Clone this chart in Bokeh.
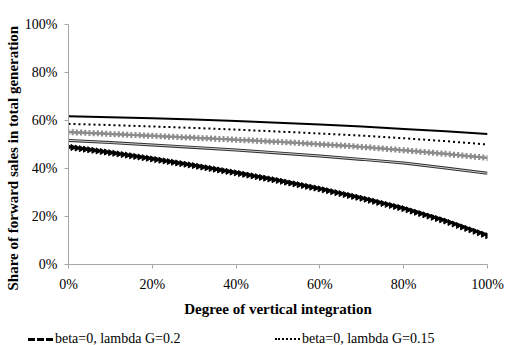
from math import pi

from bokeh.embed import file_html
from bokeh.layouts import column
from bokeh.models import ColumnDataSource, Div, FixedTicker, Range1d, Title
from bokeh.plotting import figure
from bokeh.resources import INLINE

# Degree of vertical integration (%), fine grid for marker series, coarse grid for plain lines
integration_fine = list(range(0, 101))
integration_coarse = [0, 10, 20, 30, 40, 50, 60, 70, 80, 90, 100]

# Share of forward sales in total generation (%)
share_solid = [61.8, 61.4, 60.9, 60.4, 59.8, 59.1, 58.3, 57.5, 56.5, 55.5, 54.4]
share_dotted = [58.6, 58.1, 57.5, 56.9, 56.2, 55.4, 54.6, 53.7, 52.6, 51.4, 50.0]
share_double = [51.7, 50.8, 49.8, 48.8, 47.7, 46.5, 45.2, 43.8, 42.3, 40.2, 38.0]

share_cross = [
    55.20, 55.12, 55.04, 54.96, 54.88, 54.80, 54.72, 54.64, 54.56, 54.48, 54.40,
    54.32, 54.24, 54.16, 54.08, 54.00, 53.92, 53.84, 53.76, 53.68, 53.60,
    53.52, 53.44, 53.36, 53.28, 53.20, 53.12, 53.04, 52.96, 52.88, 52.80,
    52.72, 52.64, 52.56, 52.48, 52.40, 52.32, 52.24, 52.16, 52.08, 52.00,
    51.91, 51.82, 51.73, 51.64, 51.55, 51.46, 51.37, 51.28, 51.19, 51.10,
    51.00, 50.90, 50.80, 50.70, 50.60, 50.50, 50.40, 50.30, 50.20, 50.10,
    49.99, 49.88, 49.77, 49.66, 49.55, 49.44, 49.33, 49.22, 49.11, 49.00,
    48.86, 48.72, 48.58, 48.44, 48.30, 48.16, 48.02, 47.88, 47.74, 47.60,
    47.45, 47.30, 47.15, 47.00, 46.85, 46.70, 46.55, 46.40, 46.25, 46.10,
    45.93, 45.76, 45.59, 45.42, 45.25, 45.08, 44.91, 44.74, 44.57, 44.40,
]

share_triangle = [
    49.00, 48.76, 48.52, 48.28, 48.04, 47.80, 47.56, 47.32, 47.08, 46.84, 46.60,
    46.34, 46.08, 45.82, 45.56, 45.30, 45.04, 44.78, 44.52, 44.26, 44.00,
    43.72, 43.44, 43.16, 42.88, 42.60, 42.32, 42.04, 41.76, 41.48, 41.20,
    40.90, 40.60, 40.30, 40.00, 39.70, 39.40, 39.10, 38.80, 38.50, 38.20,
    37.88, 37.56, 37.24, 36.92, 36.60, 36.28, 35.96, 35.64, 35.32, 35.00,
    34.65, 34.30, 33.95, 33.60, 33.25, 32.90, 32.55, 32.20, 31.85, 31.50,
    31.11, 30.72, 30.33, 29.94, 29.55, 29.16, 28.77, 28.38, 27.99, 27.60,
    27.17, 26.74, 26.31, 25.88, 25.45, 25.02, 24.59, 24.16, 23.73, 23.30,
    22.78, 22.26, 21.74, 21.22, 20.70, 20.18, 19.66, 19.14, 18.62, 18.10,
    17.49, 16.88, 16.27, 15.66, 15.05, 14.44, 13.83, 13.22, 12.61, 12.00,
]

tick_values = [0, 20, 40, 60, 80, 100]
tick_labels = ["0%", "20%", "40%", "60%", "80%", "100%"]

legend_labels = ["beta=0, lambda G=0.2", "beta=0, lambda G=0.15"]
x_title = "Degree of vertical integration"
y_title = "Share of forward sales in total generation"

FONT = "Liberation Serif"
AXIS_GREY = "#a6a6a6"

# ---- main chart -----------------------------------------------------------
p = figure(
    width=507, height=324,
    x_range=Range1d(0, 100), y_range=Range1d(0, 100),
    output_backend="svg", toolbar_location=None,
    min_border_left=68, min_border_right=20,
    min_border_top=24, min_border_bottom=60,
)
p.outline_line_color = None
p.background_fill_color = "white"
p.border_fill_color = "white"
p.xgrid.visible = False
p.ygrid.visible = False

overrides = dict(zip(tick_values, tick_labels))
for ax in (p.xaxis[0], p.yaxis[0]):
    ax.ticker = FixedTicker(ticks=tick_values)
    ax.major_label_overrides = overrides
    ax.axis_line_color = AXIS_GREY
    ax.major_tick_line_color = AXIS_GREY
    ax.minor_tick_line_color = None
    ax.major_tick_in = 0
    ax.major_tick_out = 4
    ax.major_label_text_font = FONT
    ax.major_label_text_font_size = "14px"
    ax.major_label_text_color = "black"
p.xaxis[0].major_label_standoff = 8
p.yaxis[0].major_label_standoff = 7

xa = p.xaxis[0]
xa.axis_label = x_title
xa.axis_label_text_font = FONT
xa.axis_label_text_font_style = "bold"
xa.axis_label_text_font_size = "15px"
xa.axis_label_text_color = "black"
xa.axis_label_standoff = 6

p.add_layout(Title(text=y_title, align="left", offset=-26, standoff=2,
                   text_font=FONT, text_font_style="bold",
                   text_font_size="15px", text_color="black"), "left")

fine = ColumnDataSource(dict(x=integration_fine, cross=share_cross, tri=share_triangle))
coarse = ColumnDataSource(dict(x=integration_coarse, solid=share_solid,
                               dotted=share_dotted, double=share_double))

# Top solid line
p.line("x", "solid", source=coarse, line_color="black", line_width=2)
# Dotted line
p.line("x", "dotted", source=coarse, line_color="black", line_width=2, line_dash="2 3")
# Grey line with cross markers
p.line("x", "cross", source=fine, line_color="#8c8c8c", line_width=2)
p.scatter("x", "cross", source=fine, marker="cross", size=6,
          line_color="#8c8c8c", line_width=2)
# Double (compound) line
p.line("x", "double", source=coarse, line_color="#303030", line_width=3)
p.line("x", "double", source=coarse, line_color="#d0d0d0", line_width=1)
# Black line with right-pointing triangle markers
p.line("x", "tri", source=fine, line_color="black", line_width=1.5)
p.scatter("x", "tri", source=fine, marker="triangle", angle=-pi / 2, size=6,
          fill_color="black", line_color="black")

# ---- legend row beneath the chart -----------------------------------------
dash = "position:absolute;top:9px;height:3px;width:7px;background:black;"
legend_html = (
    f"<div style=\"position:relative;width:507px;height:20px;"
    f"font-family:'{FONT}';font-size:14px;color:black;\">"
    f"<span style=\"{dash}left:23px;\"></span>"
    f"<span style=\"{dash}left:32px;\"></span>"
    f"<span style=\"{dash}left:41px;\"></span>"
    f"<span style=\"position:absolute;left:50px;top:2px;line-height:16px;"
    f"white-space:nowrap;\">{legend_labels[0]}</span>"
    f"<span style=\"position:absolute;left:270px;top:9px;width:25px;height:0;"
    f"border-top:2px dotted black;\"></span>"
    f"<span style=\"position:absolute;left:297px;top:2px;line-height:16px;"
    f"white-space:nowrap;\">{legend_labels[1]}</span>"
    f"</div>"
)
legend_row = Div(text=legend_html, width=507, height=20)

open("out.html", "w").write(file_html(column(p, legend_row, spacing=0), INLINE))
